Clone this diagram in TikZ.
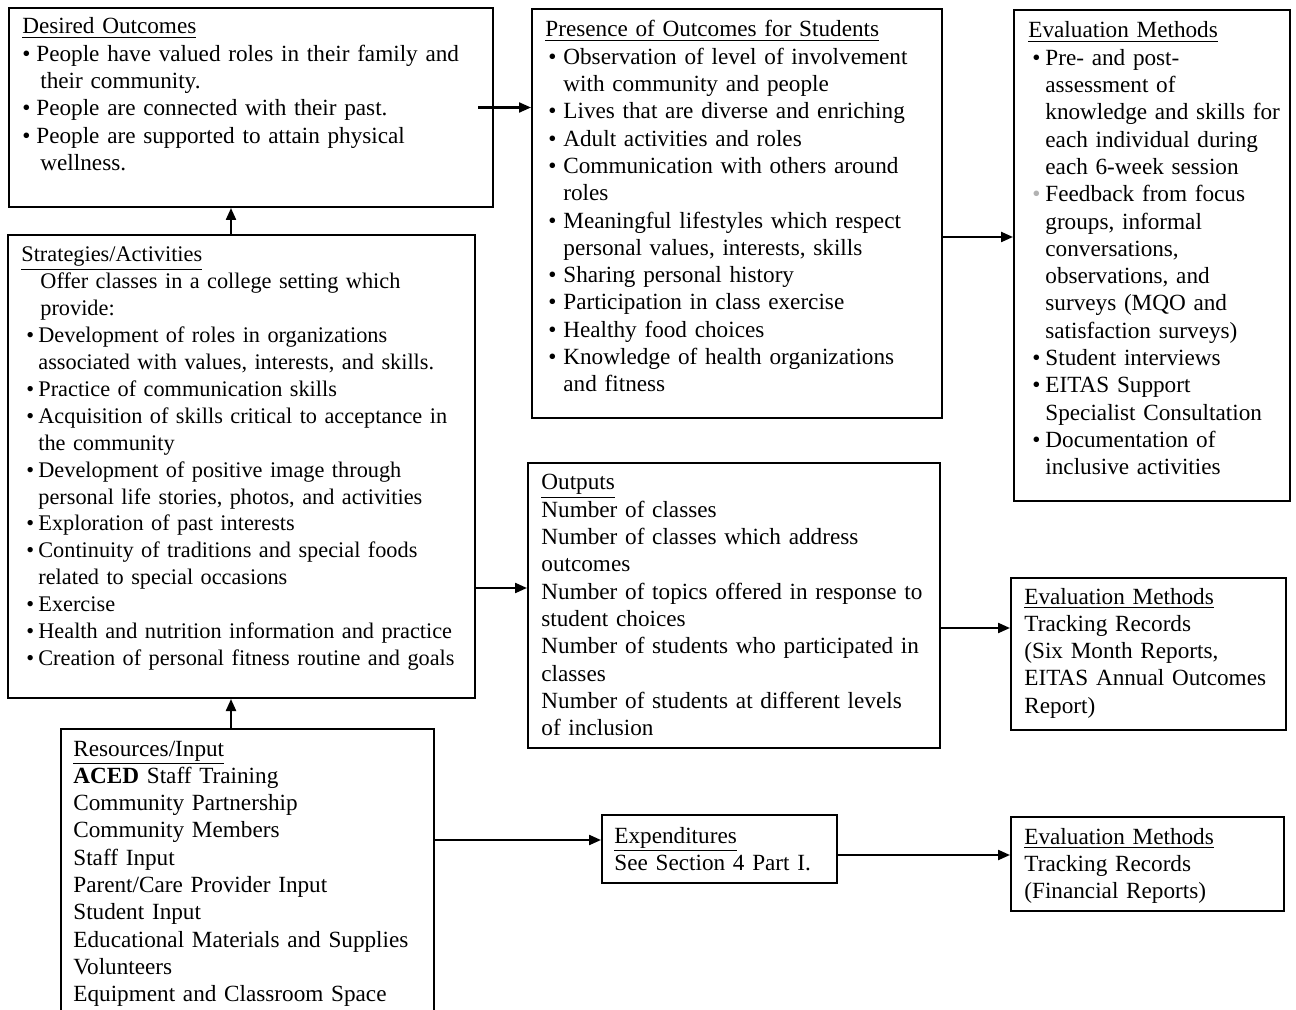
\documentclass[tikz,border=0pt]{standalone}
\usepackage{fontspec}
\setmainfont{Liberation Serif}
\usetikzlibrary{arrows.meta}
\newcommand\bul[2]{\hspace*{#1}\makebox[#2][l]{\textbullet}}
\begin{document}
\begin{tikzpicture}[x=0.5pt,y=-0.5pt,
  box/.style={draw, line width=1pt, inner sep=0pt, rectangle},
  txt/.style={anchor=base west, inner sep=0pt, text width=300pt, align=left, font=\fontsize{11.6pt}{13.65pt}\selectfont},
  txtnarrow/.style={txt, font=\fontsize{11.15pt}{13.45pt}\selectfont},
  arr/.style={line width=1.1pt, -{Triangle[length=6pt,width=5pt]}}]
\useasboundingbox (0,0) rectangle (1296,1010);
\clip (0,0) rectangle (1296,1010);
% boxes
\node[box, minimum width=242pt, minimum height=99.5pt] (d1) at (251,107.5) {};
\node[box, minimum width=233.5pt, minimum height=231.5pt] (s1) at (241.5,466.5) {};
\node[box, minimum width=186.5pt, minimum height=143.5pt] (r1) at (247.5,872.5) {};
\node[box, minimum width=205pt, minimum height=204.5pt] (p1) at (737,213.5) {};
\node[box, minimum width=206pt, minimum height=142.5pt] (o1) at (734,605.5) {};
\node[box, minimum width=117.5pt, minimum height=34pt] (e1) at (719.5,849) {};
\node[box, minimum width=138pt, minimum height=245.5pt] (m1) at (1152,255.5) {};
\node[box, minimum width=137.5pt, minimum height=76pt] (m2) at (1148.5,654) {};
\node[box, minimum width=136.5pt, minimum height=47pt] (m3) at (1147.5,864) {};
% texts
\node[txt] (td1) at (22,34) {\underline{Desired Outcomes}\\
\bul{0pt}{7pt}People have valued roles in their family and\\
\hspace*{9pt}their community.\\
\bul{0pt}{7pt}People are connected with their past.\\
\bul{0pt}{7pt}People are supported to attain physical\\
\hspace*{9pt}wellness.};
\node[txtnarrow] (ts1) at (21,262) {\underline{Strategies/Activities}\\
\hspace*{9.5pt}Offer classes in a college setting which\\
\hspace*{9.5pt}provide:\\
\bul{2.5pt}{6pt}Development of roles in organizations\\
\hspace*{8.5pt}associated with values, interests, and skills.\\
\bul{2.5pt}{6pt}Practice of communication skills\\
\bul{2.5pt}{6pt}Acquisition of skills critical to acceptance in\\
\hspace*{8.5pt}the community\\
\bul{2.5pt}{6pt}Development of positive image through\\
\hspace*{8.5pt}personal life stories, photos, and activities\\
\bul{2.5pt}{6pt}Exploration of past interests\\
\bul{2.5pt}{6pt}Continuity of traditions and special foods\\
\hspace*{8.5pt}related to special occasions\\
\bul{2.5pt}{6pt}Exercise\\
\bul{2.5pt}{6pt}Health and nutrition information and practice\\
\bul{2.5pt}{6pt}Creation of personal fitness routine and goals};
\node[txt] (tr1) at (73,756) {\underline{Resources/Input}\\
\textbf{ACED} Staff Training\\
Community Partnership\\
Community Members\\
Staff Input\\
Parent/Care Provider Input\\
Student Input\\
Educational Materials and Supplies\\
Volunteers\\
Equipment and Classroom Space};
\node[txt] (tp1) at (545,37) {\underline{Presence of Outcomes for Students}\\
\bul{1.5pt}{7.5pt}Observation of level of involvement\\
\hspace*{9pt}with community and people\\
\bul{1.5pt}{7.5pt}Lives that are diverse and enriching\\
\bul{1.5pt}{7.5pt}Adult activities and roles\\
\bul{1.5pt}{7.5pt}Communication with others around\\
\hspace*{9pt}roles\\
\bul{1.5pt}{7.5pt}Meaningful lifestyles which respect\\
\hspace*{9pt}personal values, interests, skills\\
\bul{1.5pt}{7.5pt}Sharing personal history\\
\bul{1.5pt}{7.5pt}Participation in class exercise\\
\bul{1.5pt}{7.5pt}Healthy food choices\\
\bul{1.5pt}{7.5pt}Knowledge of health organizations\\
\hspace*{9pt}and fitness};
\node[txt] (to1) at (541,490) {\underline{Outputs}\\
Number of classes\\
Number of classes which address\\
outcomes\\
Number of topics offered in response to\\
student choices\\
Number of students who participated in\\
classes\\
Number of students at different levels\\
of inclusion};
\node[txt] (te1) at (614,843) {\underline{Expenditures}\\
See Section 4 Part I.};
\node[txt] (tm1) at (1028,38) {\underline{Evaluation Methods}\\
\bul{2pt}{6.5pt}Pre- and post-\\
\hspace*{8.5pt}assessment of\\
\hspace*{8.5pt}knowledge and skills for\\
\hspace*{8.5pt}each individual during\\
\hspace*{8.5pt}each 6-week session\\
\hspace*{2pt}\makebox[6.5pt][l]{\color{black!30}\textbullet}Feedback from focus\\
\hspace*{8.5pt}groups, informal\\
\hspace*{8.5pt}conversations,\\
\hspace*{8.5pt}observations, and\\
\hspace*{8.5pt}surveys (MQO and\\
\hspace*{8.5pt}satisfaction surveys)\\
\bul{2pt}{6.5pt}Student interviews\\
\bul{2pt}{6.5pt}EITAS Support\\
\hspace*{8.5pt}Specialist Consultation\\
\bul{2pt}{6.5pt}Documentation of\\
\hspace*{8.5pt}inclusive activities};
\node[txt] (tm2) at (1024,604) {\underline{Evaluation Methods}\\
Tracking Records\\
(Six Month Reports,\\
EITAS Annual Outcomes\\
Report)};
\node[txt] (tm3) at (1024,844) {\underline{Evaluation Methods}\\
Tracking Records\\
(Financial Reports)};
% connector guides
\coordinate (colx) at (231,0);
\coordinate (a1) at ([xshift=-8pt]d1.east);
\coordinate (row1) at (0,237);
\coordinate (row2) at (0,588);
\coordinate (row3) at (0,628);
\coordinate (row4) at (0,840);
\coordinate (row5) at (0,855);
% connectors
\draw[arr] (a1) -- (a1 -| p1.west);
\draw[arr] (colx |- s1.north) -- (colx |- d1.south);
\draw[arr] (colx |- r1.north) -- (colx |- s1.south);
\draw[arr] (row2 -| s1.east) -- (row2 -| o1.west);
\draw[arr] (row4 -| r1.east) -- (row4 -| e1.west);
\draw[arr] (row1 -| p1.east) -- (row1 -| m1.west);
\draw[arr] (row3 -| o1.east) -- (row3 -| m2.west);
\draw[arr] (row5 -| e1.east) -- (row5 -| m3.west);
\end{tikzpicture}
\end{document}
